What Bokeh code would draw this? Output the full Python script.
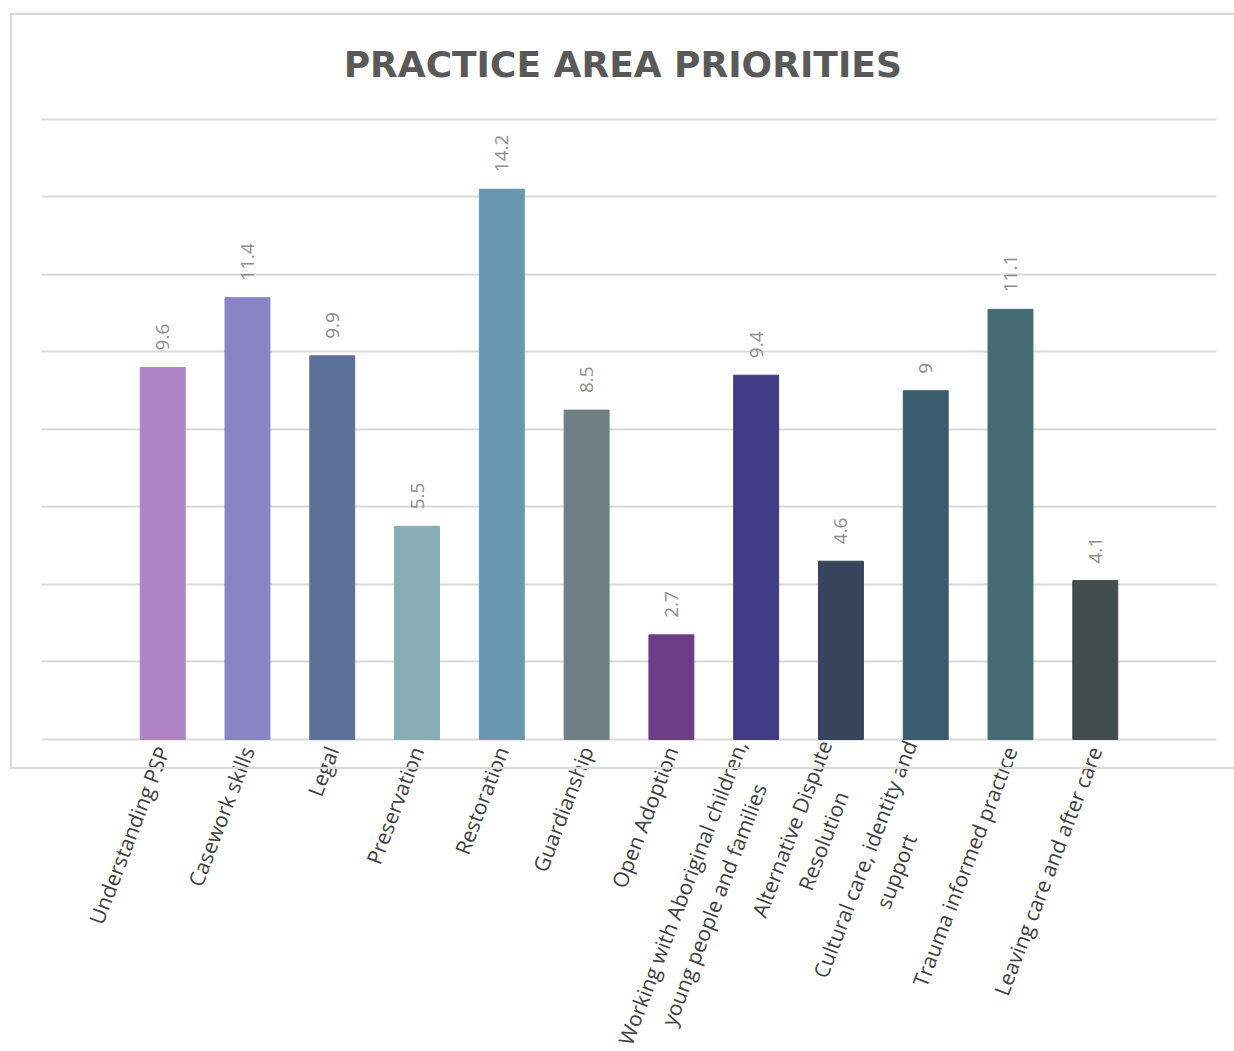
import math
from bokeh.plotting import figure
from bokeh.models import ColumnDataSource, FactorRange, Range1d, FixedTicker, Label, InlineStyleSheet
from bokeh.core.properties import value
from bokeh.embed import file_html
from bokeh.resources import INLINE

# ---- data ----
categories = [
    "Understanding PSP",
    "Casework skills",
    "Legal",
    "Preservation",
    "Restoration",
    "Guardianship",
    "Open Adoption",
    "Working with Aboriginal children,\nyoung people and families",
    "Alternative Dispute\nResolution",
    "Cultural care, identity and\nsupport",
    "Trauma informed practice",
    "Leaving care and after care",
]
values = [9.6, 11.4, 9.9, 5.5, 14.2, 8.5, 2.7, 9.4, 4.6, 9.0, 11.1, 4.1]
bar_colors = [
    "#AF84C6", "#8884C6", "#5D7097", "#86ADB5", "#6898B0", "#6E8083",
    "#6E3D87", "#413B85", "#38445B", "#3A5C6F", "#456C73", "#434B4D",
]
grid_values = [0, 2, 4, 6, 8, 10, 12, 14, 16]
title_text = "PRACTICE  AREA PRIORITIES"

labels = [f"{v:g}" for v in values]
source = ColumnDataSource(dict(cat=categories, val=values, color=bar_colors, label=labels))

# ---- layout ----
W, H = 1234, 1051
FRAME_TOP, BASELINE = 117, 739
y_end = grid_values[-1] + 0.05
px_per_unit = (BASELINE - FRAME_TOP) / (y_end - grid_values[0])
# frame continues below the baseline so that the rotated category labels can be drawn in it
y_start = grid_values[0] - (H - BASELINE) / px_per_unit

x_range = FactorRange(factors=categories, range_padding=0.155, range_padding_units="percent")
p = figure(
    width=W, height=H,
    x_range=x_range,
    y_range=Range1d(y_start, y_end),
    output_backend="svg", toolbar_location=None,
    x_axis_location=None, y_axis_location=None,
    min_border_left=41, min_border_right=W - 1216, min_border_top=FRAME_TOP, min_border_bottom=0,
)
p.outline_line_color = None
p.background_fill_color = "white"
p.border_fill_color = "white"

# title
p.title.text = title_text
p.title.align = "center"
p.title.offset = 5
p.title.text_font = "DejaVu Sans"
p.title.text_font_style = "bold"
p.title.text_font_size = "36px"
p.title.text_color = "#595959"
p.title.standoff = 66

# grid
p.xgrid.visible = False
p.ygrid.ticker = FixedTicker(ticks=grid_values)
p.ygrid.grid_line_color = "#D9D9D9"
p.ygrid.grid_line_width = 2

# bars
p.vbar(x="cat", top="val", width=0.53, color="color", source=source)

# value labels
p.text(x="cat", y="val", text="label", source=source, angle=math.pi / 2,
       text_align="left", text_baseline="middle", y_offset=-17,
       text_font=value("Open Sans"), text_font_size="19px", text_color="#8C8C8C")

# category labels (rotated, multi-line lines centred); x in the factor range's
# synthetic coordinates (centre of factor i is i + 0.5)
for i, cat in enumerate(categories):
    p.add_layout(Label(
        x=i + 0.5, y=grid_values[0], text=cat, angle=math.radians(69),
        anchor="center_right", text_align="center",
        x_offset=0, y_offset=-8,
        text_font="Open Sans", text_font_size="21px", text_color="#404040",
    ))

# outer chart border (left, top, bottom edges; right edge lies outside the window)
p.stylesheets = [InlineStyleSheet(css=(
    ":host { position: relative; }"
    ":host::after { content: ''; position: absolute; left: 10px; top: 13px;"
    " width: 1224px; height: 756px; box-sizing: border-box;"
    " border: 2px solid #D9D9D9; border-right: none; pointer-events: none; }"
))]

open("out.html", "w").write(file_html(p, INLINE))
